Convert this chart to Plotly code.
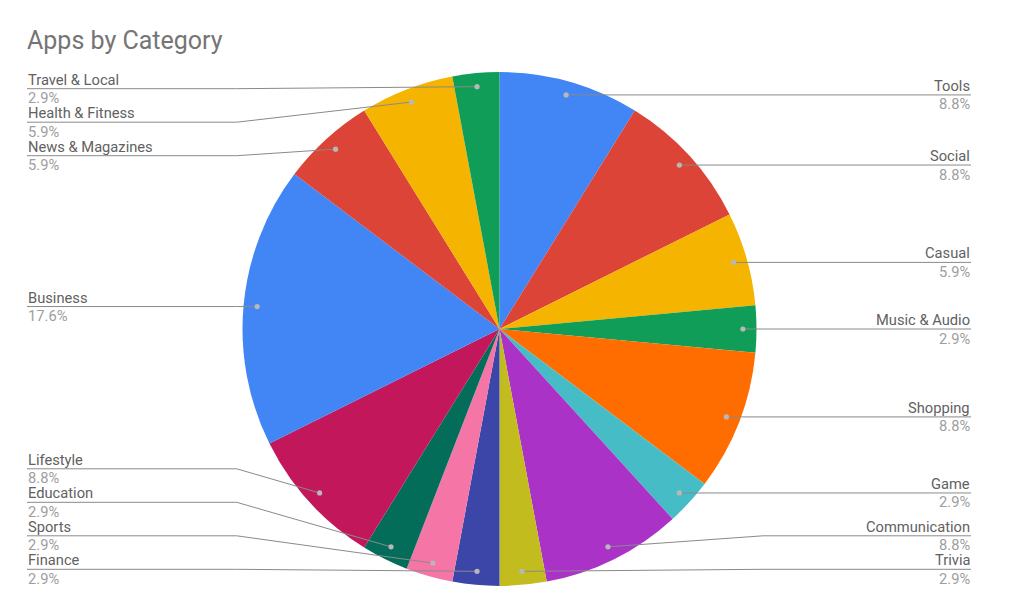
import math
import plotly.graph_objects as go

# ---- data ----
categories = ["Tools", "Social", "Casual", "Music & Audio", "Shopping", "Game",
              "Communication", "Trivia", "Finance", "Sports", "Education",
              "Lifestyle", "Business", "News & Magazines", "Health & Fitness",
              "Travel & Local"]
app_counts = [3, 3, 2, 1, 3, 1, 3, 1, 1, 1, 1, 3, 6, 2, 2, 1]
slice_colors = ["#4285F4", "#DB4437", "#F4B400", "#0F9D58", "#FF6D00", "#46BDC6",
                "#AA32C6", "#C2BC1E", "#3B46A8", "#F576A6", "#036D5A",
                "#C2185B", "#4285F4", "#DB4437", "#F4B400", "#0F9D58"]
title_text = "Apps by Category"

# ---- geometry (page pixels; body has an 8px margin) ----
PAGE_W, PAGE_H, OFF = 1024, 609, 8
W, H = PAGE_W - 2 * OFF, PAGE_H - 2 * OFF
CX, CY, R = 499.5, 329.0, 257.0
DOT_R = 0.947 * R
LEFT_X, LEFT_KNEE = 27.0, 236.7
RIGHT_X, RIGHT_KNEE = 971.0, 763.0
Y_MIN, Y_MAX, GAP = 88.7, 569.3, 33.5
FONT = "Roboto"
LABEL_SIZE = 14.7
LINE_COLOR = "#8A8A8A"
DOT_COLOR = "#B8B8B8"

total = sum(app_counts)
pcts = [v / total * 100 for v in app_counts]

fig = go.Figure()

fig.add_trace(go.Pie(
    labels=categories, values=app_counts, sort=False, direction="clockwise",
    rotation=0, textinfo="none", hole=0,
    marker=dict(colors=slice_colors, line=dict(width=0)),
    domain=dict(x=[(CX - OFF - R) / W, (CX - OFF + R) / W],
                y=[(PAGE_H - OFF - CY - R) / H, (PAGE_H - OFF - CY + R) / H]),
    showlegend=False,
))

# dots at slice mid-angles
cum = 0
items = []
for name, v, p in zip(categories, app_counts, pcts):
    mid = (cum + v / 2) / total * 2 * math.pi
    cum += v
    dx = CX + DOT_R * math.sin(mid)
    dy = CY - DOT_R * math.cos(mid)
    side = "right" if mid < math.pi else "left"
    items.append(dict(name=name, pct=p, dx=dx, dy=dy, side=side))


def place(group):
    group = sorted(group, key=lambda it: it["dy"])
    ys = [min(max(it["dy"], Y_MIN), Y_MAX) for it in group]
    for i in range(1, len(ys)):
        ys[i] = max(ys[i], ys[i - 1] + GAP)
    ys[-1] = min(ys[-1], Y_MAX)
    for i in range(len(ys) - 2, -1, -1):
        ys[i] = min(ys[i], ys[i + 1] - GAP)
    for it, y in zip(group, ys):
        it["ly"] = y


place([it for it in items if it["side"] == "left"])
place([it for it in items if it["side"] == "right"])

shapes = []
annotations = []
for it in items:
    if it["side"] == "left":
        tx, knee, anchor = LEFT_X, LEFT_KNEE, "left"
    else:
        tx, knee, anchor = RIGHT_X, RIGHT_KNEE, "right"
    ly = it["ly"]
    path = f"M {tx},{ly} L {knee},{ly} L {it['dx']:.2f},{it['dy']:.2f}"
    shapes.append(dict(type="path", path=path, xref="x", yref="y", layer="above",
                       line=dict(color=LINE_COLOR, width=1)))
    shapes.append(dict(type="circle", xref="x", yref="y", layer="above",
                       x0=it["dx"] - 2.6, x1=it["dx"] + 2.6,
                       y0=it["dy"] - 2.6, y1=it["dy"] + 2.6,
                       fillcolor=DOT_COLOR, line=dict(width=0)))
    annotations.append(dict(x=tx, y=ly + 1, xref="x", yref="y",
                            text=it["name"], showarrow=False, xanchor=anchor,
                            yanchor="bottom", borderpad=0,
                            font=dict(family=FONT, size=LABEL_SIZE, color="#616161")))
    annotations.append(dict(x=tx, y=ly - 0.5, xref="x", yref="y",
                            text=f"{it['pct']:.1f}%", showarrow=False, xanchor=anchor,
                            yanchor="top", borderpad=0,
                            font=dict(family=FONT, size=LABEL_SIZE, color="#9E9E9E")))

fig.update_layout(
    width=W, height=H,
    margin=dict(l=0, r=0, t=0, b=0),
    paper_bgcolor="white", plot_bgcolor="rgba(0,0,0,0)",
    xaxis=dict(range=[OFF, OFF + W], visible=False, fixedrange=True),
    yaxis=dict(range=[OFF + H, OFF], visible=False, fixedrange=True),
    title=dict(text=title_text, x=(27 - OFF) / W, xanchor="left",
               y=1 - (40 - OFF) / H, yanchor="middle",
               font=dict(family=FONT, size=25, color="#757575")),
    shapes=shapes,
    annotations=annotations,
    showlegend=False,
)

fig.write_html("out.html")
